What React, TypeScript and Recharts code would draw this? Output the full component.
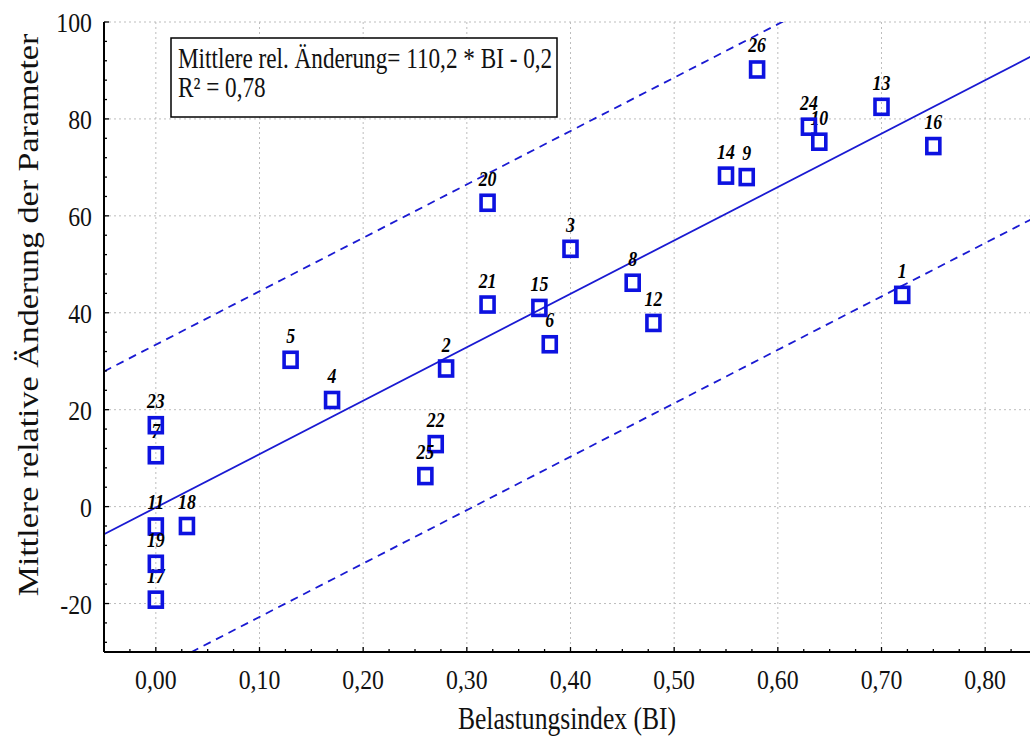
import { ComposedChart, Scatter, XAxis, YAxis, CartesianGrid, ReferenceLine, Label } from 'recharts';

// Messpunkte (Nummer, Belastungsindex, mittlere rel. Änderung)
const pointIds = [1, 2, 3, 4, 5, 6, 7, 8, 9, 10, 11, 12, 13, 14, 15, 16, 17, 18, 19, 20, 21, 22, 23, 24, 25, 26];
const biValues = [0.72, 0.28, 0.4, 0.17, 0.13, 0.38, 0.0, 0.46, 0.57, 0.64, 0.0, 0.48, 0.7, 0.55, 0.37, 0.75, 0.0, 0.03, 0.0, 0.32, 0.32, 0.27, 0.0, 0.63, 0.26, 0.58];
const changeValues = [43.7, 28.5, 53.2, 22.0, 30.3, 33.5, 10.6, 46.2, 68.0, 75.3, -4.1, 37.9, 82.5, 68.3, 41.0, 74.4, -19.2, -4.0, -11.8, 62.7, 41.7, 12.9, 16.8, 78.4, 6.3, 90.2];

// Regressionsgerade und Vertrauensband (Endpunkte bei BI = -0,05 und 0,85)
const lineBi = [-0.05, 0.85];
const fitValues = [-5.7, 93.5];
const upperValues = [27.9, 127.1];
const lowerValues = [-39.3, 59.9];

const xMajorTicks = [0, 0.1, 0.2, 0.3, 0.4, 0.5, 0.6, 0.7, 0.8];
const xMinorTicks = [-0.025, 0.025, 0.05, 0.075, 0.125, 0.15, 0.175, 0.225, 0.25, 0.275, 0.325, 0.35, 0.375, 0.425, 0.45, 0.475, 0.525, 0.55, 0.575, 0.625, 0.65, 0.675, 0.725, 0.75, 0.775, 0.825];
const yMajorTicks = [-20, 0, 20, 40, 60, 80, 100];
const yMinorTicks = [-28, -24, -16, -12, -8, -4, 4, 8, 12, 16, 24, 28, 32, 36, 44, 48, 52, 56, 64, 68, 72, 76, 84, 88, 92, 96];

const xTitle = 'Belastungsindex (BI)';
const yTitle = 'Mittlere relative Änderung der Parameter';
const equationText = 'Mittlere rel. Änderung= 110,2 * BI - 0,2';
const rSquaredText = 'R² = 0,78';

const FONT = "'Liberation Serif', 'Times New Roman', serif";
const BLUE = '#0d12e0';
const LINE_BLUE = '#1a1ad2';
const SQUEEZE = 0.85;

const points = pointIds.map((id, i) => ({ id, bi: biValues[i], change: changeValues[i] }));
const xTicks = [...xMajorTicks, ...xMinorTicks].sort((a, b) => a - b);
const yTicks = [...yMajorTicks, ...yMinorTicks].sort((a, b) => a - b);

const fmtX = (v: number) => v.toFixed(2).replace('.', ',');

const BottomTick = ({ x, y, payload }: any) => {
  const major = xMajorTicks.includes(payload.value);
  return (
    <g>
      <line x1={x} y1={y} x2={x} y2={y - (major ? 5 : 3)} stroke="#000" strokeWidth={1.3} />
      {major && (
        <text transform={`translate(${x} ${y + 37}) scale(${SQUEEZE} 1)`} textAnchor="middle" fontSize={28} fontFamily={FONT} fill="#111">
          {fmtX(payload.value)}
        </text>
      )}
    </g>
  );
};

const TopTick = ({ x, y, payload }: any) => {
  const major = xMajorTicks.includes(payload.value);
  return <line x1={x} y1={y} x2={x} y2={y + (major ? 5 : 3)} stroke="#000" strokeWidth={1.3} />;
};

const LeftTick = ({ x, y, payload }: any) => {
  const major = yMajorTicks.includes(payload.value);
  return (
    <g>
      <line x1={x} y1={y} x2={x + (major ? 5 : 3)} y2={y} stroke="#000" strokeWidth={1.3} />
      {major && (
        <text transform={`translate(${x - 12} ${y + 10}) scale(${SQUEEZE} 1)`} textAnchor="end" fontSize={28} fontFamily={FONT} fill="#111">
          {payload.value}
        </text>
      )}
    </g>
  );
};

const RightTick = ({ x, y, payload }: any) => {
  const major = yMajorTicks.includes(payload.value);
  return <line x1={x} y1={y} x2={x - (major ? 5 : 3)} y2={y} stroke="#000" strokeWidth={1.3} />;
};

const SquareMarker = (props: any) => {
  const { cx, cy, payload } = props;
  return (
    <g>
      <rect x={cx - 6.5} y={cy - 7.5} width={13} height={15} fill="none" stroke={BLUE} strokeWidth={3.6} />
      <text
        transform={`translate(${cx} ${cy - 17}) scale(${SQUEEZE} 1)`}
        textAnchor="middle"
        fontSize={21}
        fontWeight="bold"
        fontStyle="italic"
        fontFamily={FONT}
        fill="#000"
      >
        {payload.id}
      </text>
    </g>
  );
};

export default function App() {
  return (
    <div style={{ position: 'absolute', left: 0, top: 0, width: 1030, height: 742, overflow: 'hidden', background: '#fff' }}>
      <ComposedChart width={1040} height={742} data={points} margin={{ top: 22, right: 3, bottom: 0, left: 0 }}>
        <CartesianGrid
          stroke="#bdbdbd"
          strokeDasharray="2 3"
          verticalValues={xMajorTicks}
          horizontalValues={yMajorTicks}
        />
        <XAxis
          dataKey="bi"
          type="number"
          domain={[-0.05, 0.85]}
          ticks={xTicks}
          interval={0}
          height={90}
          tickSize={0}
          tickMargin={0}
          tickLine={false}
          tick={<BottomTick />}
          axisLine={{ stroke: '#000', strokeWidth: 2 }}
          allowDataOverflow
        >
          <Label
            content={() => (
              <text transform={`translate(567 729) scale(0.8 1)`} textAnchor="middle" fontSize={32} fontFamily={FONT} fill="#111">
                {xTitle}
              </text>
            )}
          />
        </XAxis>
        <XAxis
          xAxisId="top"
          orientation="top"
          type="number"
          domain={[-0.05, 0.85]}
          ticks={xTicks}
          interval={0}
          height={0}
          tickSize={0}
          tickMargin={0}
          tickLine={false}
          tick={<TopTick />}
          axisLine={{ stroke: '#000', strokeWidth: 2 }}
          allowDataOverflow
        />
        <YAxis
          dataKey="change"
          type="number"
          domain={[-30, 100]}
          ticks={yTicks}
          interval={0}
          width={104}
          tickSize={0}
          tickMargin={0}
          tickLine={false}
          tick={<LeftTick />}
          axisLine={{ stroke: '#000', strokeWidth: 2 }}
          allowDataOverflow
        >
          <Label
            content={() => (
              <text transform={`translate(38 315) scale(${SQUEEZE} 1) rotate(-90)`} textAnchor="middle" fontSize={34} fontFamily={FONT} fill="#111">
                {yTitle}
              </text>
            )}
          />
        </YAxis>
        <YAxis
          yAxisId="right"
          orientation="right"
          type="number"
          domain={[-30, 100]}
          ticks={yTicks}
          interval={0}
          width={0}
          tickSize={0}
          tickMargin={0}
          tickLine={false}
          tick={<RightTick />}
          axisLine={{ stroke: '#000', strokeWidth: 2 }}
          allowDataOverflow
        />
        <ReferenceLine
          segment={[{ x: lineBi[0], y: upperValues[0] }, { x: lineBi[1], y: upperValues[1] }]}
          stroke={LINE_BLUE}
          strokeWidth={1.8}
          strokeDasharray="8 6"
          ifOverflow="hidden"
        />
        <ReferenceLine
          segment={[{ x: lineBi[0], y: lowerValues[0] }, { x: lineBi[1], y: lowerValues[1] }]}
          stroke={LINE_BLUE}
          strokeWidth={1.8}
          strokeDasharray="8 6"
          ifOverflow="hidden"
        />
        <ReferenceLine
          segment={[{ x: lineBi[0], y: fitValues[0] }, { x: lineBi[1], y: fitValues[1] }]}
          stroke={LINE_BLUE}
          strokeWidth={1.8}
          ifOverflow="hidden"
        />
        <Scatter dataKey="change" shape={<SquareMarker />} isAnimationActive={false} />
      </ComposedChart>
      <svg width={1030} height={742} style={{ position: 'absolute', left: 0, top: 0, pointerEvents: 'none' }}>
        <rect x={171} y={38} width={386} height={79} fill="#fff" stroke="#000" strokeWidth={1.5} />
        <text transform={`translate(178 68) scale(0.8 1)`} fontSize={29} fontFamily={FONT} fill="#111">
          {equationText}
        </text>
        <text transform={`translate(178 97) scale(0.8 1)`} fontSize={29} fontFamily={FONT} fill="#111">
          {rSquaredText}
        </text>
      </svg>
    </div>
  );
}
